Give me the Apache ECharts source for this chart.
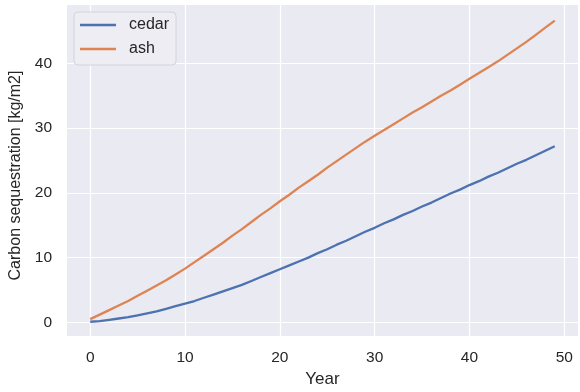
<!DOCTYPE html>
<html>
<head>
<meta charset="utf-8">
<script src="https://cdn.jsdelivr.net/npm/echarts@6/dist/echarts.min.js"></script>
<style>html,body{margin:0;padding:0;background:#fff;}#c{width:580px;height:392px;}</style>
</head>
<body>
<div id="c"></div>
<script>
const years = Array.from({length: 50}, (_, i) => i);
const cedar = [0.1,0.2,0.4,0.6,0.8,1.1,1.4,1.7,2.1,2.5,2.9,3.3,3.8,4.3,4.8,5.3,5.8,6.4,7.0,7.6,8.2,8.8,9.4,10.0,10.7,11.3,12.0,12.6,13.3,14.0,14.6,15.3,15.9,16.6,17.2,17.9,18.5,19.2,19.9,20.5,21.2,21.8,22.5,23.1,23.8,24.5,25.1,25.8,26.5,27.2];
const ash = [0.5,1.2,1.9,2.6,3.3,4.1,4.9,5.7,6.5,7.4,8.3,9.3,10.3,11.3,12.3,13.4,14.4,15.5,16.6,17.6,18.7,19.7,20.8,21.8,22.8,23.9,24.9,25.9,26.9,27.9,28.8,29.7,30.6,31.5,32.4,33.2,34.1,35.0,35.8,36.7,37.6,38.5,39.4,40.3,41.3,42.3,43.3,44.4,45.5,46.6];
const xTicks = [0,10,20,30,40,50];
const yTicks = [0,10,20,30,40];

const chart = echarts.init(document.getElementById('c'), null, {renderer: 'canvas'});
const font = 'Arial, "Liberation Sans", sans-serif';
chart.setOption({
  animation: false,
  grid: {left: 67, right: 2, top: 5, bottom: 56, show: true, backgroundColor: '#EAEAF2', borderWidth: 0,
         containLabel: false, outerBoundsMode: 'none'},
  legend: {
    orient: 'vertical', left: 74, top: 12,
    padding: [5, 7, 8, 6], itemGap: 8,
    itemWidth: 36, itemHeight: 2.5, icon: 'rect',
    backgroundColor: '#EDEDF3', borderColor: '#d3d3da', borderWidth: 1, borderRadius: 4,
    textStyle: {fontFamily: font, fontSize: 16, color: '#262626', padding: [0,0,0,8]},
    data: ['cedar', 'ash']
  },
  xAxis: {
    type: 'value', min: -2.45, max: 51.45,
    name: 'Year', nameLocation: 'middle', nameGap: 35,
    nameTextStyle: {fontFamily: font, fontSize: 17, color: '#262626'},
    axisLine: {show: false},
    axisTick: {show: false, customValues: xTicks},
    axisLabel: {customValues: xTicks, fontFamily: font, fontSize: 15.5, color: '#262626', margin: 14},
    splitLine: {show: true, lineStyle: {color: '#ffffff', width: 1.2}}
  },
  yAxis: {
    type: 'value', min: -2.1, max: 49.0,
    name: 'Carbon sequestration [kg/m2]', nameLocation: 'middle', nameGap: 42,
    nameTextStyle: {fontFamily: font, fontSize: 16, color: '#262626', padding: [0, 10, 0, 0]},
    axisLine: {show: false},
    axisTick: {show: false, customValues: yTicks},
    axisLabel: {customValues: yTicks, fontFamily: font, fontSize: 15.5, color: '#262626', margin: 15},
    splitLine: {show: true, lineStyle: {color: '#ffffff', width: 1.2}}
  },
  series: [
    {name: 'cedar', type: 'line', showSymbol: false, data: years.map((x, i) => [x, cedar[i]]),
     lineStyle: {color: '#4C72B0', width: 2.3}, itemStyle: {color: '#4C72B0'}},
    {name: 'ash', type: 'line', showSymbol: false, data: years.map((x, i) => [x, ash[i]]),
     lineStyle: {color: '#DD8452', width: 2.3}, itemStyle: {color: '#DD8452'}}
  ]
});
</script>
</body>
</html>
